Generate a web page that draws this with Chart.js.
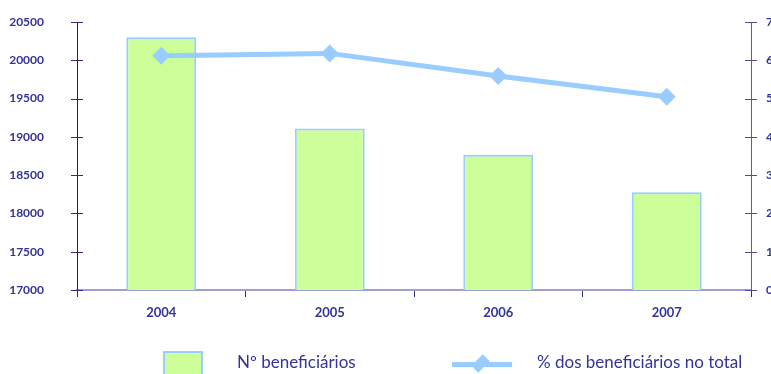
<!DOCTYPE html>
<html>
<head>
<meta charset="utf-8">
<script src="https://cdn.jsdelivr.net/npm/chart.js@4.4.1/dist/chart.umd.min.js"></script>
<style>
  html, body { margin: 0; padding: 0; background: #fff; overflow: hidden; }
  #wrap { position: relative; width: 771px; height: 374px; }
  #chart { position: absolute; left: 0; top: 0; }
  .legend { position: absolute; font-family: Lato, "Open Sans", sans-serif; font-size: 17px; color: #333399; }
  .box { position: absolute; left: 163px; top: 351px; width: 36px; height: 30px; background: #ccff99; border: 2px solid #99ccff; }
  .lineKey { position: absolute; left: 452px; top: 362px; width: 60px; height: 5px; background: #99ccff; }
  .diamond { position: absolute; left: 474px; top: 357px; width: 13px; height: 13px; background: #99ccff; transform: rotate(45deg) scale(0.75, 1.25); }
</style>
</head>
<body>
<div id="wrap">
  <canvas id="chart" width="771" height="374"></canvas>
  <div class="box"></div>
  <div class="legend" style="left:237px; top:351px;">Nº beneficiários</div>
  <div class="lineKey"></div>
  <div class="diamond"></div>
  <div class="legend" style="left:537px; top:351px;">% dos beneficiários no total</div>
</div>
<script>
const years = ['2004', '2005', '2006', '2007'];
const beneficiarios = [20300, 19110, 18765, 18275];
const percentTotal = [6.12, 6.18, 5.59, 5.05];

const navy = '#333399';

// cross-shaped tick marks on both value axes
const crossTicks = {
  id: 'crossTicks',
  afterDraw(chart) {
    const ctx = chart.ctx;
    ctx.save();
    ['y', 'y1'].forEach(id => {
      const s = chart.scales[id];
      const x = id === 'y' ? s.right : s.left;
      ctx.strokeStyle = id === 'y' ? '#2b2b88' : '#4a4aa0';
      ctx.lineWidth = 1;
      s.ticks.forEach(t => {
        const y = Math.round(s.getPixelForValue(t.value)) + 0.5;
        ctx.beginPath();
        ctx.moveTo(x - 6, y);
        ctx.lineTo(x + 6, y);
        ctx.stroke();
      });
    });
    ctx.restore();
  }
};

new Chart(document.getElementById('chart'), {
  data: {
    labels: years,
    datasets: [
      {
        type: 'line',
        label: '% dos beneficiários no total',
        data: percentTotal,
        yAxisID: 'y1',
        borderColor: '#99ccff',
        backgroundColor: '#99ccff',
        borderWidth: 5,
        pointStyle: 'rectRot',
        pointRadius: 9,
        pointBorderWidth: 0,
        tension: 0,
        order: 1
      },
      {
        type: 'bar',
        label: 'Nº beneficiários',
        data: beneficiarios,
        yAxisID: 'y',
        backgroundColor: '#ccff99',
        borderColor: '#99ccff',
        borderWidth: 2,
        categoryPercentage: 1,
        barPercentage: 0.415,
        order: 2
      }
    ]
  },
  options: {
    responsive: false,
    animation: false,
    layout: { autoPadding: false, padding: { top: 22, bottom: 44, left: 0, right: 0 } },
    plugins: {
      legend: { display: false },
      tooltip: { enabled: false }
    },
    scales: {
      x: {
        afterFit: s => { s.height = 40; },
        border: { color: '#9f9fd0', width: 2 },
        grid: { drawOnChartArea: false, color: '#2b2b88', tickLength: 7 },
        ticks: { color: navy, padding: 8, font: { family: 'Lato', weight: 'bold', size: 13 } }
      },
      y: {
        position: 'left',
        min: 17000,
        max: 20500,
        afterFit: s => { s.width = 77; },
        border: { color: '#1a1a80', width: 1 },
        // hidden grid; its tick length only spaces the labels off the axis
        grid: { display: false, drawTicks: true, tickLength: 33 },
        ticks: {
          stepSize: 500,
          padding: 0,
          color: navy,
          font: { family: 'Lato', weight: 'bold', size: 12 },
          callback: v => String(v)
        }
      },
      y1: {
        position: 'right',
        min: 0,
        max: 7,
        afterFit: s => { s.width = 20; },
        border: { color: '#5c5cb0', width: 1 },
        grid: { display: false, drawTicks: true, tickLength: 15 },
        ticks: {
          stepSize: 1,
          padding: 0,
          color: navy,
          font: { family: 'Lato', weight: 'bold', size: 12 },
          callback: v => v + ',0%'
        }
      }
    }
  },
  plugins: [crossTicks]
});
</script>
</body>
</html>
